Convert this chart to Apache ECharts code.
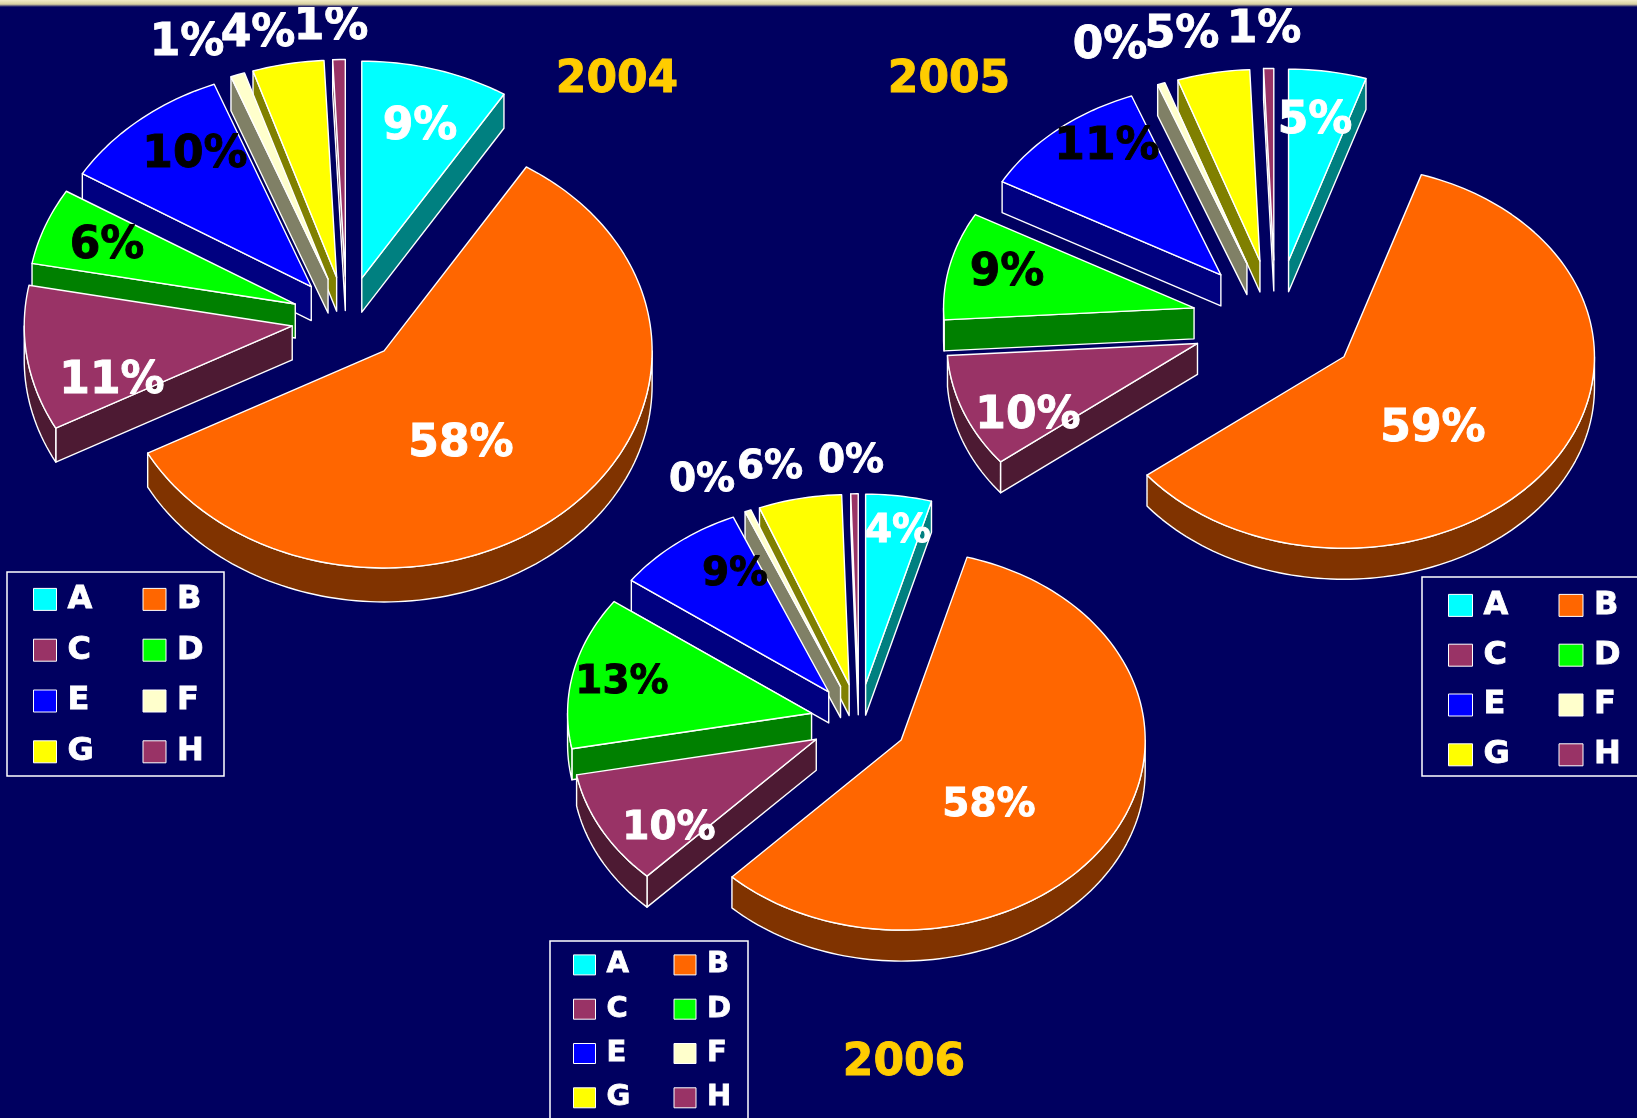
<!DOCTYPE html>
<html>
<head>
<meta charset="utf-8">
<title>2004 2005 2006</title>
<style>
html, body { margin: 0; padding: 0; background: #000060; overflow: hidden; }
#main { width: 1637px; height: 1118px; }
</style>
<script src="https://cdn.jsdelivr.net/npm/echarts@6/dist/echarts.min.js"></script>
</head>
<body>
<div id="main"></div>
<script>
var categories = ['A', 'B', 'C', 'D', 'E', 'F', 'G', 'H'];
var years = ['2004', '2005', '2006'];
var values2004 = [8.9, 58.3, 10.8, 5.7, 10.4, 0.85, 4.3, 0.75];
var values2005 = [5.0, 59.4, 9.6, 9.1, 11.1, 0.49, 4.66, 0.65];
var values2006 = [4.35, 57.85, 9.8, 13.0, 8.6, 0.41, 5.5, 0.49];

var topColors = ['#00ffff', '#ff6600', '#993366', '#00ff00', '#0000ff', '#ffffcc', '#ffff00', '#993366'];
var sideColors = ['#008080', '#803300', '#4d1a33', '#008000', '#000080', '#808066', '#808000', '#4d1a33'];
var labelColors = ['#fff', '#fff', '#fff', '#000', '#000', '#fff', '#fff', '#fff'];

// 画的顺序，后面的盖住前面的
var drawOrder = [7, 6, 5, 4, 3, 2, 0, 1];

var pies = [
    {
        values: values2004, cx: 346.6, cy: 319.5, rx: 268, ry: 217, ex: 55, ey: 43, depth: 34, fontSize: 44,
        titlePos: [617, 59],
        labelPos: [[420, 128], [461, 445], [112, 382], [107, 247], [195, 156], [187, 44], [258, 35], [331, 28]],
        frame: [7, 572, 217, 204],
        legend: { left: 7, top: 572, padding: [11, 0, 0, 26], fontSize: 32, itemW: 23, itemH: 22, gap: 18, textW: 57, width: 205 }
    },
    {
        values: values2005, cx: 1275.5, cy: 321.5, rx: 250.5, ry: 191.5, ex: 83.5, ey: 61.6, depth: 31, fontSize: 44,
        titlePos: [949, 59],
        labelPos: [[1315, 122], [1433, 430], [1028, 417], [1007, 274], [1107, 148], [1110, 47], [1182, 36], [1264, 31]],
        frame: [1422, 577, 230, 199],
        legend: { left: 1422, top: 577, padding: [12, 0, 0, 26], fontSize: 32, itemW: 24, itemH: 22, gap: 17, textW: 58, width: 207 }
    },
    {
        values: values2006, cx: 859, cy: 721.4, rx: 244, ry: 190, ex: 48.6, ey: 37.6, depth: 31, fontSize: 39,
        titlePos: [904, 1042],
        labelPos: [[898, 532], [989, 806], [669, 829], [622, 683], [735, 575], [702, 481], [770, 468], [851, 462]],
        frame: [550, 941, 198, 200],
        legend: { left: 550, top: 941, padding: [9, 0, 0, 23], fontSize: 29, itemW: 22, itemH: 20, gap: 14.5, textW: 52.5, width: 190 }
    }
];

function rimPoint(cx, cy, rx, ry, deg) {
    var a = deg * Math.PI / 180;
    return [cx + rx * Math.sin(a), cy - ry * Math.cos(a)];
}

function sliceRenderer(pie, idx) {
    var before = 0;
    var total = 0;
    for (var i = 0; i < pie.values.length; i++) {
        if (i < idx) before += pie.values[i];
        total += pie.values[i];
    }
    return function (params, api) {
        var start = before / total * 360;
        var end = (before + api.value(0)) / total * 360;
        var mid = (start + end) / 2 * Math.PI / 180;
        var x0 = pie.cx + pie.ex * Math.sin(mid);
        var y0 = pie.cy - pie.ey * Math.cos(mid);
        var d = pie.depth;
        var kids = [];

        function poly(points, fill) {
            kids.push({
                type: 'polygon',
                shape: { points: points },
                style: { fill: fill, stroke: '#fff', lineWidth: 1.4, lineJoin: 'round' }
            });
        }
        function sideWall(deg) {
            var p = rimPoint(x0, y0, pie.rx, pie.ry, deg);
            poly([[x0, y0], p, [p[0], p[1] + d], [x0, y0 + d]], sideColors[idx]);
        }

        if (Math.sin(start * Math.PI / 180) < 0) sideWall(start);
        if (Math.sin(end * Math.PI / 180) > 0) sideWall(end);

        // 外圈的侧面，只有下半圈看得见
        var a = Math.max(start, 90);
        var b = Math.min(end, 270);
        var deg;
        if (b > a) {
            var upper = [];
            var lower = [];
            for (deg = a; deg < b; deg += 1.5) {
                var q = rimPoint(x0, y0, pie.rx, pie.ry, deg);
                upper.push(q);
                lower.unshift([q[0], q[1] + d]);
            }
            var last = rimPoint(x0, y0, pie.rx, pie.ry, b);
            upper.push(last);
            lower.unshift([last[0], last[1] + d]);
            poly(upper.concat(lower), sideColors[idx]);
        }

        var face = [[x0, y0]];
        for (deg = start; deg < end; deg += 1.5) {
            face.push(rimPoint(x0, y0, pie.rx, pie.ry, deg));
        }
        face.push(rimPoint(x0, y0, pie.rx, pie.ry, end));
        poly(face, topColors[idx]);

        return { type: 'group', children: kids };
    };
}

function labelRenderer(pie) {
    return function (params, api) {
        var i = params.dataIndex;
        var pos = pie.labelPos[i];
        return {
            type: 'text',
            x: pos[0],
            y: pos[1],
            style: {
                text: Math.round(api.value(0)) + '%',
                fill: labelColors[i],
                stroke: labelColors[i],
                lineWidth: 0.9,
                font: 'bold ' + pie.fontSize + 'px "DejaVu Sans"',
                textAlign: 'center',
                textVerticalAlign: 'middle'
            }
        };
    };
}

var series = [];
var legends = [];
var titles = [];
var frames = [];

for (var p = 0; p < pies.length; p++) {
    var pie = pies[p];
    for (var n = 0; n < drawOrder.length; n++) {
        var idx = drawOrder[n];
        series.push({
            type: 'custom',
            name: categories[idx],
            coordinateSystem: 'none',
            silent: true,
            animation: false,
            z: 2 + p,
            itemStyle: { color: topColors[idx] },
            renderItem: sliceRenderer(pie, idx),
            data: [[pie.values[idx]]]
        });
    }
    series.push({
        type: 'custom',
        name: 'label' + years[p],
        coordinateSystem: 'none',
        silent: true,
        animation: false,
        z: 10,
        renderItem: labelRenderer(pie),
        data: pie.values.map(function (v) { return [v]; })
    });

    var lg = pie.legend;
    legends.push({
        show: true,
        selectedMode: false,
        orient: 'horizontal',
        left: lg.left,
        top: lg.top,
        width: lg.width,
        padding: lg.padding,
        itemGap: lg.gap,
        itemWidth: lg.itemW,
        itemHeight: lg.itemH,
        itemStyle: { borderColor: '#fff', borderWidth: 1 },
        icon: 'rect',
        data: categories,
        textStyle: {
            color: '#fff',
            fontFamily: 'DejaVu Sans',
            fontWeight: 'bold',
            fontSize: lg.fontSize,
            lineHeight: lg.fontSize,
            width: lg.textW,
            padding: [0, 0, 0, 6],
            textBorderColor: '#fff',
            textBorderWidth: 0.8,
            overflow: 'none'
        }
    });

    // 图例外框
    frames.push({
        type: 'rect',
        z: 1,
        shape: { x: pie.frame[0], y: pie.frame[1], width: pie.frame[2], height: pie.frame[3] },
        style: { fill: 'none', stroke: '#fff', lineWidth: 1.5 }
    });

    titles.push({
        text: years[p],
        left: pie.titlePos[0],
        top: pie.titlePos[1],
        textAlign: 'center',
        padding: 0,
        textStyle: {
            color: '#ffcc00', fontFamily: 'DejaVu Sans', fontWeight: 'bold', fontSize: 44,
            textBorderColor: '#ffcc00', textBorderWidth: 0.9
        }
    });
}

frames.push({
    type: 'rect',
    left: 0,
    top: 0,
    z: 20,
    shape: { width: 1637, height: 7 },
    style: {
        fill: new echarts.graphic.LinearGradient(0, 0, 0, 1, [
            { offset: 0, color: '#f2ecc8' },
            { offset: 0.6, color: '#d8d0a0' },
            { offset: 1, color: '#000060' }
        ])
    }
});

var myChart = echarts.init(document.getElementById('main'), null, { renderer: 'canvas' });
myChart.setOption({
    backgroundColor: '#000060',
    animation: false,
    tooltip: { show: false },
    title: titles,
    legend: legends,
    series: series,
    graphic: frames
});
</script>
</body>
</html>
